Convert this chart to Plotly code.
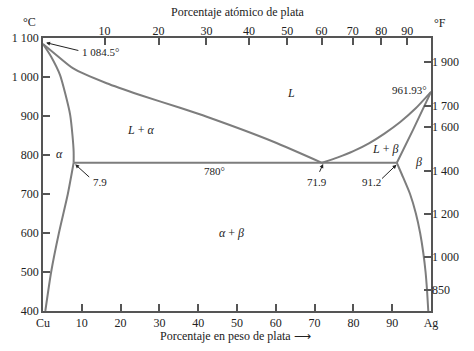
import plotly.graph_objects as go

# ---- data (wt% Ag, temperature °C) ----
liquidus_left_x = [0, 3.5, 7.8, 16.4, 25, 35.3, 42.2, 59.4, 71.9]
liquidus_left_t = [1084.5, 1056, 1022, 984, 954, 921, 898, 834, 780]
liquidus_right_x = [71.9, 76, 80, 84, 88, 92, 96, 100]
liquidus_right_t = [780, 794, 810, 830, 855, 884, 919, 961.93]
alpha_solidus_x = [0, 2.1, 4.4, 5.8, 7.0, 7.6, 7.9, 7.9]
alpha_solidus_t = [1084.5, 1052, 1005, 955, 903, 850, 808, 780]
alpha_solvus_x = [7.9, 6.4, 4.1, 2.1, 0.6]
alpha_solvus_t = [780, 700, 600, 500, 400]
beta_solidus_x = [91.2, 95.4, 100]
beta_solidus_t = [780, 865, 961.93]
beta_solvus_x = [91.2, 92.5, 94.6, 96.1, 97.2, 98.0, 98.6, 99.0, 99.3]
beta_solvus_t = [780, 750, 700, 650, 600, 550, 500, 450, 400]
eutectic_x = [7.9, 91.2]
eutectic_t = [780, 780]

bottom_ticks = [0, 10, 20, 30, 40, 50, 60, 70, 80, 90, 100]
bottom_labels = ["Cu", "10", "20", "30", "40", "50", "60", "70", "80", "90", "Ag"]
atomic_ticks = [10, 20, 30, 40, 50, 60, 70, 80, 90]
left_ticks = [400, 500, 600, 700, 800, 900, 1000, 1100]
left_labels = ["400", "500", "600", "700", "800", "900", "1 000", "1 100"]
f_ticks = [850, 1000, 1200, 1400, 1600, 1700, 1900]
f_labels = ["850", "1 000", "1 200", "1 400", "1 600", "1 700", "1 900"]

M_AG, M_CU = 107.87, 63.55
def at_to_wt(a):
    return 100 * a * M_AG / (a * M_AG + (100 - a) * M_CU)
def f_to_c(f):
    return (f - 32) * 5 / 9

FONT = "Liberation Serif"
LC = "#7d7d7d"
AX = "#555555"

fig = go.Figure()
for xs, ts in [(liquidus_left_x, liquidus_left_t), (liquidus_right_x, liquidus_right_t),
               (alpha_solidus_x, alpha_solidus_t), (alpha_solvus_x, alpha_solvus_t),
               (beta_solidus_x, beta_solidus_t), (beta_solvus_x, beta_solvus_t),
               (eutectic_x, eutectic_t)]:
    fig.add_trace(go.Scatter(x=xs, y=ts, mode="lines", line=dict(color=LC, width=2, shape="spline", smoothing=0.6),
                             hoverinfo="skip", showlegend=False))
# invisible trace for secondary axes
fig.add_trace(go.Scatter(x=[0, 100], y=[400, 1100], xaxis="x2", yaxis="y2", mode="lines",
                         line=dict(width=0), opacity=0, showlegend=False, hoverinfo="skip"))

tickfont = dict(family=FONT, size=12, color="#222")
common = dict(showgrid=False, zeroline=False, ticks="inside", ticklen=7, tickcolor=AX, tickwidth=1.5,
              tickfont=tickfont)
fig.update_layout(
    width=474, height=351,
    margin=dict(l=43, r=43, t=38, b=40),
    plot_bgcolor="white", paper_bgcolor="white",
    xaxis=dict(range=[0, 100], tickvals=bottom_ticks, ticktext=bottom_labels, showline=True,
               linecolor=AX, linewidth=1.5, mirror=True, **common),
    xaxis2=dict(range=[0, 100], overlaying="x", side="top", tickvals=[at_to_wt(a) for a in atomic_ticks],
                ticktext=[str(a) for a in atomic_ticks], showline=False, **common),
    yaxis=dict(range=[400, 1100], tickvals=left_ticks, ticktext=left_labels, showline=True,
               linecolor=AX, linewidth=1.5, mirror=True, **common),
    yaxis2=dict(range=[400, 1100], overlaying="y", side="right", tickvals=[f_to_c(f) for f in f_ticks],
                ticktext=f_labels, showline=False, **common),
)

def txt(x, y, s, size=12, xanchor="center", xref="x", yref="y"):
    fig.add_annotation(x=x, y=y, text=s, showarrow=False, xref=xref, yref=yref, xanchor=xanchor,
                       yanchor="middle", font=dict(family=FONT, size=size, color="#222"))

def arrow(x0, y0, x1, y1):
    fig.add_annotation(x=x1, y=y1, ax=x0, ay=y0, xref="x", yref="y", axref="x", ayref="y", text="",
                       showarrow=True, arrowhead=2, arrowsize=0.8, arrowwidth=1, arrowcolor="#222")

txt(14.9, 1065, "1 084.5°", 11)
arrow(9.5, 1067, 0.8, 1088)
txt(99.6, 966, "961.93°", 11, xanchor="right")
txt(63.9, 959, "<i>L</i>", 12)
txt(25, 864, "<i>L</i> + <i>α</i>", 12)
txt(4.2, 802, "<i>α</i>", 12)
txt(44.1, 759, "780°", 11)
txt(14.7, 731, "7.9", 11)
arrow(12.3, 740, 8.3, 776)
txt(70.5, 731, "71.9", 11)
arrow(71.1, 753, 72.2, 777)
txt(84.7, 731, "91.2", 11)
arrow(87.0, 736, 91.1, 775)
txt(88.1, 815, "<i>L</i> + <i>β</i>", 12)
txt(96.9, 783, "<i>β</i>", 12)
txt(48.7, 600, "<i>α</i> + <i>β</i>", 12)

txt(-0.036, 1.059, "°C", 12, xref="paper", yref="paper")
txt(1.023, 1.055, "°F", 12, xref="paper", yref="paper")
txt(0.5026, 1.095, "Porcentaje atómico de plata", 12, xref="paper", yref="paper")
txt(0.497, -0.0916, "Porcentaje en peso de plata ⟶", 12, xref="paper", yref="paper")

fig.write_html("out.html")
